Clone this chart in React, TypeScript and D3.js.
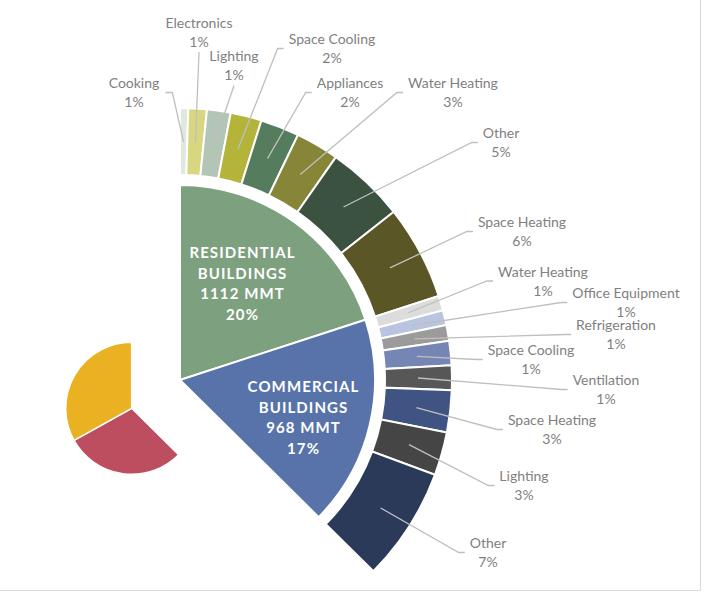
import React, { useMemo } from 'react';
import * as d3 from 'd3';

// ---------- DATA ----------
const groupNames = ['Residential Buildings', 'Commercial Buildings', 'Industry', 'Transportation'];
const groupValues = [1112, 968, 1640, 1840]; // MMT
const groupLabelLines = [
  ['RESIDENTIAL', 'BUILDINGS', '1112 MMT', '20%'],
  ['COMMERCIAL', 'BUILDINGS', '968 MMT', '17%'],
];

const resCategories = ['Cooking', 'Electronics', 'Lighting', 'Space Cooling', 'Appliances', 'Water Heating', 'Other', 'Space Heating'];
const resValues = [27, 61, 78, 103, 128, 143, 260, 312];
const resPctLabels = ['1%', '1%', '1%', '2%', '2%', '3%', '5%', '6%'];

const comCategories = ['Water Heating', 'Office Equipment', 'Refrigeration', 'Space Cooling', 'Ventilation', 'Space Heating', 'Lighting', 'Other'];
const comValues = [49, 49, 52, 80, 81, 139, 143, 375];
const comPctLabels = ['1%', '1%', '1%', '1%', '1%', '3%', '3%', '7%'];

// ---------- STYLE / LAYOUT ----------
const groupColors = ['#7da07f', '#5873aa', '#bd4e5f', '#eab222'];
const resColors = ['#e0e9e0', '#d8d77f', '#b3c5b4', '#b5b43a', '#557d5d', '#878537', '#3c5241', '#5b5625'];
const comColors = ['#dcdcdc', '#b9c4e0', '#9b9b9b', '#7586b5', '#575757', '#3f5483', '#454545', '#2c3a5a'];

// label centre x, vertical middle of the 2-line block, attach side
const resLabelLayout: [number, number, string][] = [
  [134, 92.5, 'right'], [199, 32, 'bottom'], [234, 65.5, 'bottom'], [332, 48.5, 'left'],
  [350, 92.5, 'left'], [453, 92.5, 'left'], [501, 142.5, 'left'], [522, 231.5, 'left'],
];
const comLabelLayout: [number, number, string][] = [
  [543, 281, 'left'], [626, 302.5, 'left'], [616, 334.5, 'left'], [531, 359.5, 'left'],
  [606, 389.5, 'left'], [552, 429.5, 'left'], [524, 485.5, 'left'], [488, 552.5, 'left'],
];
const groupLabelLayout: [number, number][] = [[242, 258], [303, 392]];

const W = 710, H = 598;
const CX = 180, CY = 380;
const R_PIE = 195, R_IN = 205, R_OUT = 272, R_LEADER = 238;
const SMALL_R = 66, SMALL_DX = -48.3, SMALL_DY = 28.3;
const LABEL_FONT = 'Lato, "Open Sans", sans-serif';
const LABEL_SIZE = 14;

let ctx: CanvasRenderingContext2D | null = null;
function textW(s: string, font: string) {
  if (!ctx) ctx = document.createElement('canvas').getContext('2d');
  if (!ctx) return s.length * 7;
  ctx.font = font;
  return ctx.measureText(s).width;
}

export default function App() {
  const total = d3.sum(groupValues);
  const angle = d3.scaleLinear().domain([0, total]).range([0, 2 * Math.PI]);

  const groups = useMemo(() => {
    let acc = 0;
    return groupValues.map((v, i) => {
      const g = { i, name: groupNames[i], start: angle(acc), end: angle(acc + v), startVal: acc };
      acc += v;
      return g;
    });
  }, []);

  const ring = useMemo(() => {
    const items: any[] = [];
    const add = (cats: string[], vals: number[], pcts: string[], cols: string[], lay: any[], offset: number) => {
      let acc = offset;
      cats.forEach((c, i) => {
        items.push({ name: c, pct: pcts[i], color: cols[i], layout: lay[i], start: angle(acc), end: angle(acc + vals[i]) });
        acc += vals[i];
      });
    };
    add(resCategories, resValues, resPctLabels, resColors, resLabelLayout, groups[0].startVal);
    add(comCategories, comValues, comPctLabels, comColors, comLabelLayout, groups[1].startVal);
    return items;
  }, []);

  const pieArc = d3.arc<any>().innerRadius(0).outerRadius(R_PIE);
  const smallArc = d3.arc<any>().innerRadius(0).outerRadius(SMALL_R);
  const ringArc = d3.arc<any>().innerRadius(R_IN).outerRadius(R_OUT);
  const leaderArc = d3.arc<any>().innerRadius(R_LEADER).outerRadius(R_LEADER);

  const font = `${LABEL_SIZE}px ${LABEL_FONT}`;

  return (
    <svg width={W} height={H} style={{ position: 'absolute', left: 0, top: 0, background: '#fff' }}>
      <rect x={0} y={0} width={W} height={H} fill="#fff" />
      <line x1={700.5} y1={0} x2={700.5} y2={590.5} stroke="#d9d9d9" strokeWidth={1} />
      <line x1={0} y1={590.5} x2={700.5} y2={590.5} stroke="#d9d9d9" strokeWidth={1} />

      <g transform={`translate(${CX},${CY})`}>
        {groups.slice(0, 2).map((g) => (
          <path key={g.name} d={pieArc({ startAngle: g.start, endAngle: g.end }) || ''} fill={groupColors[g.i]} stroke="#fff" strokeWidth={2} strokeLinejoin="round" />
        ))}
        <g transform={`translate(${SMALL_DX},${SMALL_DY})`}>
          {groups.slice(2).map((g) => (
            <path key={g.name} d={smallArc({ startAngle: g.start, endAngle: g.end }) || ''} fill={groupColors[g.i]} stroke="#fff" strokeWidth={1.5} strokeLinejoin="round" />
          ))}
        </g>
        {ring.map((r, i) => (
          <path key={i} d={ringArc({ startAngle: r.start, endAngle: r.end }) || ''} fill={r.color} stroke="#fff" strokeWidth={2} />
        ))}
      </g>

      {/* leader lines */}
      {ring.map((r, i) => {
        const [lx, ly, side] = r.layout;
        const c = leaderArc.centroid({ startAngle: r.start, endAngle: r.end } as any);
        const sx = CX + c[0], sy = CY + c[1];
        const w = Math.max(textW(r.name, font), textW(r.pct, font));
        let pts: [number, number][];
        if (side === 'left') {
          const ex = lx - w / 2 - 5;
          pts = [[sx, sy], [ex - 6, ly], [ex, ly]];
        } else if (side === 'right') {
          const ex = lx + w / 2 + 6;
          pts = [[sx, sy], [ex + 7, ly], [ex, ly]];
        } else {
          pts = [[sx, sy], [lx, ly + 20]];
        }
        return <path key={'l' + i} d={d3.line()(pts) || ''} fill="none" stroke="#bfbfbf" strokeWidth={1.3} />;
      })}

      {/* outer labels */}
      {ring.map((r, i) => {
        const [lx, ly] = r.layout;
        return (
          <text key={'t' + i} x={lx} textAnchor="middle" fontFamily={LABEL_FONT} fontSize={LABEL_SIZE} fill="#7f7f7f">
            <tspan x={lx} y={ly - 4.5}>{r.name}</tspan>
            <tspan x={lx} y={ly + 14.5}>{r.pct}</tspan>
          </text>
        );
      })}

      {/* inner labels */}
      {groupLabelLines.map((lines, gi) => {
        const [x, y0] = groupLabelLayout[gi];
        return (
          <text key={'g' + gi} textAnchor="middle" fontFamily={LABEL_FONT} fontWeight={700} fontSize={15} fill="#fff" letterSpacing={1.1}>
            {lines.map((ln, k) => (
              <tspan key={k} x={x + 0.55} y={y0 + k * 20.7}>{ln}</tspan>
            ))}
          </text>
        );
      })}
    </svg>
  );
}
